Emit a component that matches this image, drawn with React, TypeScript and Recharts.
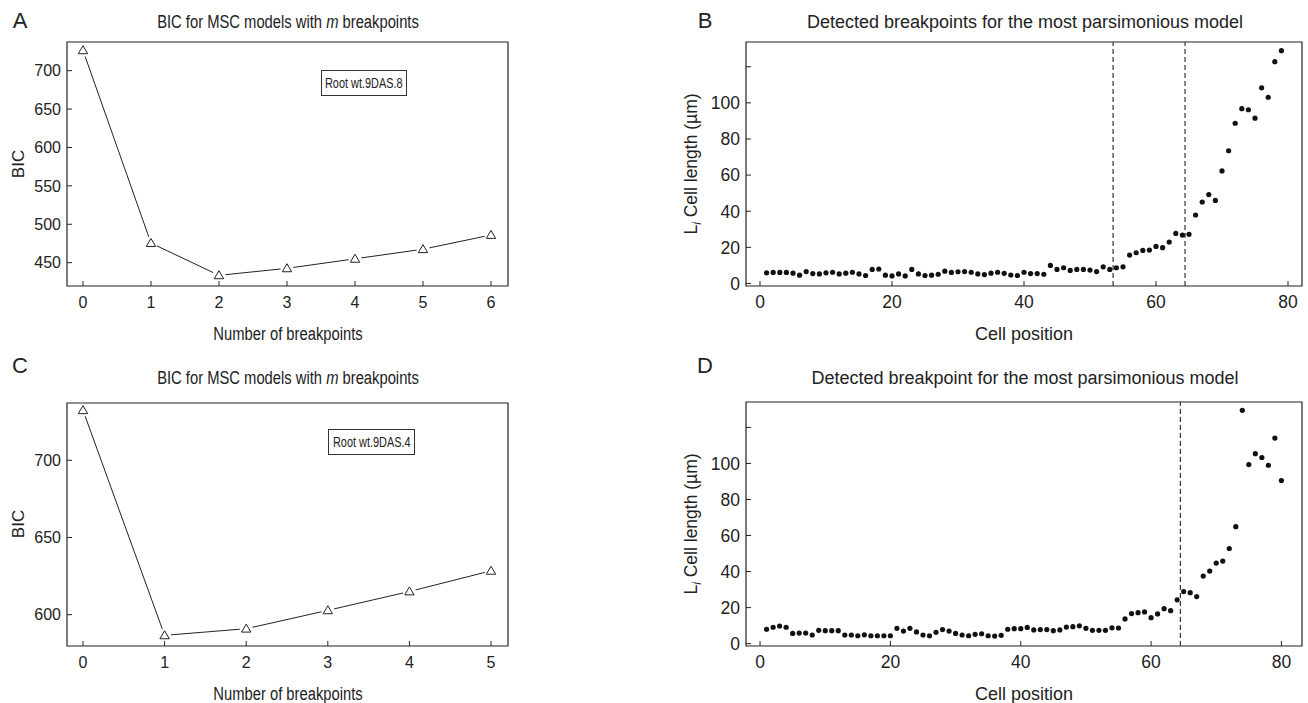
import React from "react";
import {
    ComposedChart,
    Line,
    XAxis,
    YAxis,
    ReferenceArea,
    ReferenceLine,
    ScatterChart,
    Scatter,
} from "recharts";

const FONT = '"Liberation Sans", Arial, Helvetica, sans-serif';
const INK = "#222";

// Panels A and C: BIC against the number of breakpoints
const breakpointsA = [0, 1, 2, 3, 4, 5, 6];
const bicA = [726.5, 475.5, 433.5, 442.6, 455, 467.5, 486];
const bicTicksA = [450, 500, 550, 600, 650, 700];

const breakpointsC = [0, 1, 2, 3, 4, 5];
const bicC = [732.4, 586.6, 590.9, 602.8, 615, 628.4];
const bicTicksC = [600, 650, 700];

// Panels B and D: cell length by cell position (position = index + 1)
const cellLengthB = [
    5.9, 6.1, 6.1, 6.1, 5.7, 4.6, 6.6, 5.5, 5.3, 5.9,
    6.2, 5.3, 5.7, 6.2, 5.3, 4.4, 7.8, 8.0, 4.6, 4.2,
    5.3, 4.2, 7.8, 5.3, 4.4, 4.6, 5.1, 6.8, 6.1, 6.5,
    6.6, 6.2, 5.3, 4.9, 5.7, 6.2, 5.6, 4.7, 4.4, 6.2,
    5.5, 5.5, 5.1, 10.0, 7.8, 8.7, 7.2, 7.8, 7.8, 7.4,
    6.6, 9.2, 7.8, 8.7, 9.2, 15.7, 17.0, 18.3, 18.5, 20.5,
    19.8, 22.9, 27.7, 26.8, 27.2, 37.9, 45.1, 49.2, 46.0, 62.3,
    73.5, 88.7, 96.8, 96.2, 91.5, 108.3, 103.1, 122.8, 128.9,
];
const breaksB = [53.5, 64.4];

const cellLengthD = [
    8.0, 9.1, 9.8, 9.1, 5.7, 5.9, 5.9, 4.8, 7.4, 7.2,
    7.2, 7.2, 4.8, 4.8, 4.4, 4.9, 4.4, 4.4, 4.4, 4.4,
    8.5, 7.0, 8.5, 6.5, 4.8, 4.4, 6.3, 7.8, 7.0, 5.7,
    4.8, 4.4, 5.2, 5.5, 4.4, 4.2, 4.6, 8.0, 8.3, 8.3,
    9.0, 7.6, 7.8, 7.8, 7.2, 7.6, 9.2, 9.4, 9.9, 8.5,
    7.4, 7.4, 7.4, 8.8, 8.7, 13.7, 16.7, 17.2, 17.6, 14.4,
    16.5, 19.4, 18.3, 24.3, 28.9, 28.3, 26.1, 37.5, 40.3, 44.7,
    45.8, 52.8, 64.9, 129.5, 99.4, 105.4, 103.3, 99.0, 114.1, 90.5,
];
const breaksD = [64.5];

const positionTicks = [0, 20, 40, 60, 80];
const lengthTicks = [0, 20, 40, 60, 80, 100, 120];
const lengthLabels = [0, 20, 40, 60, 80, 100];

// inward tick marks, labels outside the box
function BottomTick(props: any) {
    const { x, y, payload, fontSize } = props;
    return (
        <g>
            <line x1={x} y1={y} x2={x} y2={y - 5} stroke={INK} />
            <text x={x} y={y + 16} dy="0.36em" textAnchor="middle" fontSize={fontSize} fill={INK} fontFamily={FONT}>
                {payload.value}
            </text>
        </g>
    );
}

function LeftTick(props: any) {
    const { x, y, payload, fontSize, labels } = props;
    return (
        <g>
            <line x1={x} y1={y} x2={x + 5} y2={y} stroke={INK} />
            {(!labels || labels.includes(payload.value)) && (
                <text x={x - 6} y={y} dy="0.36em" textAnchor="end" fontSize={fontSize} fill={INK} fontFamily={FONT}>
                    {payload.value}
                </text>
            )}
        </g>
    );
}

function TriangleDot(props: any) {
    const { cx, cy } = props;
    if (cx == null || cy == null) return null;
    return (
        <g>
            <circle cx={cx} cy={cy} r={6.5} fill="#fff" />
            <path
                d={`M${cx},${cy - 4.6} L${cx + 4.7},${cy + 3.4} L${cx - 4.7},${cy + 3.4} Z`}
                fill="#fff"
                stroke={INK}
                strokeWidth={1}
            />
        </g>
    );
}

function Caption({ x, y, size, rotate = 0, squeeze = 1, children }: any) {
    return (
        <div
            style={{
                position: "absolute",
                left: x,
                top: y,
                transform: `translate(-50%, -50%) rotate(${rotate}deg) scaleX(${squeeze})`,
                fontSize: size,
                lineHeight: 1,
                whiteSpace: "nowrap",
                color: INK,
                fontFamily: FONT,
            }}
        >
            {children}
        </div>
    );
}

function BicPanel({ top, xs, ys, xDomain, yDomain, yTicks }: any) {
    const data = xs.map((m: number, i: number) => ({ m, bic: ys[i] }));
    const plotH = yDomain.h;
    return (
        <div style={{ position: "absolute", left: 0, top: top - 10 }}>
            <ComposedChart
                width={530}
                height={plotH + 54}
                data={data}
                margin={{ top: 10, right: 22, bottom: 14, left: 17 }}
            >
                <XAxis
                    type="number"
                    dataKey="m"
                    domain={xDomain}
                    ticks={xs}
                    interval={0}
                    allowDataOverflow
                    axisLine={false}
                    tickLine={false}
                    tickSize={0}
                    tickMargin={0}
                    height={30}
                    tick={(p: any) => <BottomTick {...p} fontSize={16} />}
                />
                <YAxis
                    type="number"
                    domain={yDomain.d}
                    ticks={yTicks}
                    interval={0}
                    allowDataOverflow
                    axisLine={false}
                    tickLine={false}
                    tickSize={0}
                    tickMargin={0}
                    width={50}
                    tick={(p: any) => <LeftTick {...p} fontSize={16} />}
                />
                <ReferenceArea
                    x1={xDomain[0]}
                    x2={xDomain[1]}
                    y1={yDomain.d[0]}
                    y2={yDomain.d[1]}
                    fill="none"
                    stroke={INK}
                    strokeWidth={1.2}
                />
                <Line
                    dataKey="bic"
                    stroke={INK}
                    strokeWidth={1}
                    dot={(p: any) => <TriangleDot key={`t-${p.index}`} {...p} />}
                    activeDot={false}
                    isAnimationActive={false}
                />
            </ComposedChart>
        </div>
    );
}

function CellPanel({ top, lengths, xDomain, yDomain, breaks }: any) {
    const data = lengths.map((v: number, i: number) => ({ pos: i + 1, len: v }));
    return (
        <div style={{ position: "absolute", left: 690, top: top - 10 }}>
            <ScatterChart width={618} height={244 + 54} margin={{ top: 10, right: 6, bottom: 14, left: 11 }}>
                <XAxis
                    type="number"
                    dataKey="pos"
                    domain={xDomain}
                    ticks={positionTicks}
                    interval={0}
                    allowDataOverflow
                    axisLine={false}
                    tickLine={false}
                    tickSize={0}
                    tickMargin={0}
                    height={30}
                    tick={(p: any) => <BottomTick {...p} fontSize={17.5} />}
                />
                <YAxis
                    type="number"
                    dataKey="len"
                    domain={yDomain}
                    ticks={lengthTicks}
                    interval={0}
                    allowDataOverflow
                    axisLine={false}
                    tickLine={false}
                    tickSize={0}
                    tickMargin={0}
                    width={45}
                    tick={(p: any) => <LeftTick {...p} fontSize={17.5} labels={lengthLabels} />}
                />
                <ReferenceArea
                    x1={xDomain[0]}
                    x2={xDomain[1]}
                    y1={yDomain[0]}
                    y2={yDomain[1]}
                    fill="none"
                    stroke={INK}
                    strokeWidth={1.2}
                />
                {breaks.map((b: number) => (
                    <ReferenceLine key={b} x={b} stroke="#333" strokeWidth={1.2} strokeDasharray="5 3" />
                ))}
                <Scatter
                    data={data}
                    isAnimationActive={false}
                    shape={(p: any) => <circle cx={p.cx} cy={p.cy} r={2.6} fill="#111" />}
                />
            </ScatterChart>
        </div>
    );
}

function LegendBox({ left, top, width, children }: any) {
    return (
        <div
            style={{
                position: "absolute",
                left,
                top,
                width,
                height: 26,
                boxSizing: "border-box",
                border: "1.3px solid #333",
                display: "flex",
                alignItems: "center",
                justifyContent: "center",
                fontFamily: FONT,
                color: INK,
            }}
        >
            <span style={{ fontSize: 14, transform: "scaleX(0.78)", whiteSpace: "nowrap" }}>{children}</span>
        </div>
    );
}

export default function App() {
    const bicTitle = (
        <>
            BIC for MSC models with <i>m</i> breakpoints
        </>
    );
    const lengthLabel = (
        <>
            L<sub style={{ fontSize: "0.7em", fontStyle: "italic" }}>i</sub> Cell length (µm)
        </>
    );

    return (
        <div
            style={{
                position: "absolute",
                left: 0,
                top: 0,
                width: 1308,
                height: 703,
                background: "#fff",
                overflow: "hidden",
                fontFamily: FONT,
            }}
        >
            <BicPanel
                top={42}
                xs={breakpointsA}
                ys={bicA}
                xDomain={[-0.235, 6.25]}
                yDomain={{ d: [419.6, 737.3], h: 244 }}
                yTicks={bicTicksA}
            />
            <BicPanel
                top={403}
                xs={breakpointsC}
                ys={bicC}
                xDomain={[-0.196, 5.208]}
                yDomain={{ d: [579.7, 737.1], h: 243 }}
                yTicks={bicTicksC}
            />
            <CellPanel top={42} lengths={cellLengthB} xDomain={[-2.12, 82.12]} yDomain={[-1.4, 133.7]} breaks={breaksB} />
            <CellPanel top={402} lengths={cellLengthD} xDomain={[-2.16, 83.16]} yDomain={[-1.3, 134.1]} breaks={breaksD} />

            <LegendBox left={321} top={70} width={86}>Root wt.9DAS.8</LegendBox>
            <LegendBox left={328} top={429} width={87}>Root wt.9DAS.4</LegendBox>

            <Caption x={20} y={21} size={22}>A</Caption>
            <Caption x={705} y={21} size={22}>B</Caption>
            <Caption x={20} y={366} size={22}>C</Caption>
            <Caption x={705} y={366} size={22}>D</Caption>

            <Caption x={287.5} y={21.5} size={18} squeeze={0.82}>{bicTitle}</Caption>
            <Caption x={287.5} y={378} size={18} squeeze={0.82}>{bicTitle}</Caption>
            <Caption x={1025} y={21.5} size={18}>Detected breakpoints for the most parsimonious model</Caption>
            <Caption x={1025} y={378} size={18}>Detected breakpoint for the most parsimonious model</Caption>

            <Caption x={17.5} y={164} size={17} rotate={-90}>BIC</Caption>
            <Caption x={17.5} y={524} size={17} rotate={-90}>BIC</Caption>
            <Caption x={693} y={164} size={17.5} rotate={-90}>{lengthLabel}</Caption>
            <Caption x={693} y={524} size={17.5} rotate={-90}>{lengthLabel}</Caption>

            <Caption x={287.5} y={334} size={18} squeeze={0.82}>Number of breakpoints</Caption>
            <Caption x={287.5} y={694} size={18} squeeze={0.82}>Number of breakpoints</Caption>
            <Caption x={1024} y={334} size={18}>Cell position</Caption>
            <Caption x={1024} y={694} size={18}>Cell position</Caption>
        </div>
    );
}
